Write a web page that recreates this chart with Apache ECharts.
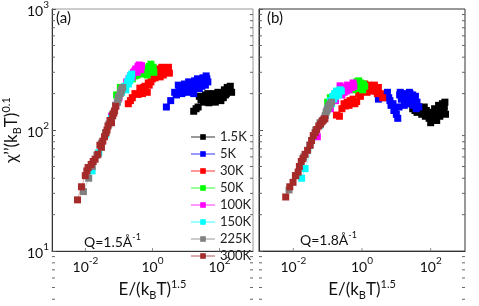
<!DOCTYPE html>
<html><head><meta charset="utf-8">
<script src="https://cdn.jsdelivr.net/npm/echarts@6/dist/echarts.min.js"></script>
<style>html,body{margin:0;padding:0;background:#fff}#c{width:479px;height:306px}</style>
</head><body><div id="c"></div>
<script>
const temps = ['1.5K','5K','30K','50K','100K','150K','225K','300K'];
const colors = ['#000000','#0000ff','#ff0000','#00ff00','#ff00ff','#00ffff','#808080','#a52a2a'];
const xTickExps = [-2, 0, 2];
const xTickValues = [0.01, 1, 100];
const yMinorTicks = [2,3,4,5,6,7,8,9,20,30,40,50,60,70,80,90,200,300,400,500,600,700,800,900];

// Panel (a) Q=1.5
const a_1_5K = [[17,143],[20,150],[23,155],[25,190],[28,178],[30,185],[33,170],[35,175],[38,195],[40,190],[45,200],[48,168],[50,175],[55,190],[60,185],[65,200],[70,195],[75,170],[80,180],[85,195],[90,205],[95,185],[100,190],[110,175],[120,200],[130,185],[140,215],[150,195],[160,200],[170,225],[180,220],[200,210],[210,230],[230,205]];
const a_5K = [[2.6,155],[3.5,175],[4.6,205],[5.2,195],[5.9,235],[6.5,225],[7,215],[7.5,200],[8,205],[8.5,230],[9,240],[10,225],[11,205],[12,250],[13,235],[14,210],[15,245],[16,230],[17,200],[18,255],[19,225],[20,240],[22,265],[24,235],[25,220],[27,250],[28,245],[30,230],[32,270],[34,260],[36,255],[38,235],[40,280],[42,265],[45,250]];
const a_30K = [[0.19,165],[0.22,175],[0.25,185],[0.3,200],[0.37,197],[0.42,222],[0.45,215],[0.5,200],[0.55,225],[0.6,230],[0.7,205],[0.75,245],[0.8,235],[0.9,250],[1.0,265],[1.1,280],[1.2,270],[1.3,295],[1.4,300],[1.5,320],[1.6,290],[1.7,275],[1.8,310],[1.9,330],[2.0,300],[2.1,285],[2.3,325],[2.5,320],[2.7,300],[2.9,310],[3.0,330],[3.2,295]];
const a_50K = [[0.085,195],[0.11,225],[0.25,265],[0.3,280],[0.35,285],[0.4,310],[0.45,300],[0.5,290],[0.55,305],[0.6,325],[0.65,300],[0.7,285],[0.75,320],[0.8,335],[0.9,350],[0.95,320],[1.0,310],[1.05,330],[1.1,300]];
const a_100K = [[0.06,130],[0.08,160],[0.1,185],[0.13,220],[0.17,250],[0.2,265],[0.22,280],[0.25,275],[0.27,300],[0.3,310],[0.32,320],[0.35,300],[0.37,335],[0.4,345],[0.42,330],[0.45,315],[0.47,340]];
const a_150K = [[0.0158,46],[0.025,65],[0.04,92],[0.06,125],[0.09,170],[0.12,205],[0.14,225],[0.15,230],[0.16,215],[0.18,250],[0.19,240],[0.2,265],[0.21,255],[0.22,280],[0.23,270],[0.24,290]];
const a_225K = [[0.0087,31],[0.0125,40],[0.016,50],[0.022,62],[0.03,78],[0.04,95],[0.05,112],[0.065,135],[0.08,160],[0.09,170],[0.095,180],[0.1,190],[0.11,200],[0.115,210],[0.12,215],[0.13,225]];
const a_300K = [[0.0058,26.5],[0.0076,34],[0.0099,42],[0.011,46],[0.012,49],[0.0148,52],[0.017,55],[0.0194,57.5],[0.0236,63],[0.027,75],[0.03,72],[0.033,81],[0.037,88],[0.041,95],[0.044,100],[0.047,108],[0.054,120],[0.06,115],[0.065,131],[0.07,138],[0.074,144],[0.08,157]];

// Panel (b) Q=1.8
const b_1_5K = [[30,150],[35,145],[40,140],[45,155],[50,150],[55,135],[60,145],[65,155],[70,130],[75,145],[80,140],[90,125],[100,115],[105,140],[110,135],[120,125],[130,150],[140,140],[150,120],[160,145],[170,160],[185,130],[200,145],[210,155],[220,165],[240,140],[250,155],[260,170],[270,135]];
const b_5K = [[3.0,180],[3.5,190],[4.0,185],[4.5,195],[5.0,190],[5.5,205],[6.0,185],[6.5,175],[7,160],[8,165],[8.5,145],[9,150],[10,135],[11,125],[12,155],[12.5,195],[13,205],[14,180],[15,190],[16,200],[17,160],[18,185],[20,195],[21,165],[22,175],[24,205],[25,200],[27,165],[28,180],[30,195],[32,160],[34,175],[36,190],[38,150],[40,170],[45,155]];
const b_30K = [[0.18,133],[0.22,130],[0.26,150],[0.3,165],[0.33,158],[0.37,170],[0.42,160],[0.45,175],[0.5,168],[0.55,180],[0.62,165],[0.7,172],[0.8,200],[0.9,190],[1.0,220],[1.1,210],[1.2,240],[1.3,225],[1.4,205],[1.5,215],[1.6,235],[1.8,230],[1.9,210],[2.1,220],[2.3,235],[2.5,210],[2.8,200],[3.0,225],[3.4,200],[4.0,185]];
const b_50K = [[0.1,170],[0.12,185],[0.5,230],[0.55,215],[0.6,240],[0.65,225],[0.7,250],[0.75,235],[0.8,255],[0.85,220],[0.9,245],[1.0,235],[1.05,215],[1.1,240],[1.2,230]];
const b_100K = [[0.05,88],[0.08,125],[0.12,150],[0.17,175],[0.2,200],[0.23,232],[0.26,195],[0.28,215],[0.3,205],[0.32,225],[0.35,210],[0.38,235],[0.42,215],[0.45,230],[0.5,225],[0.55,245],[0.58,230]];
const b_150K = [[0.0175,40],[0.022,48],[0.06,110],[0.1,150],[0.12,175],[0.13,165],[0.14,190],[0.15,180],[0.16,200],[0.17,190],[0.18,210],[0.2,205],[0.21,195],[0.23,215],[0.25,210]];
const b_225K = [[0.0075,32],[0.012,42],[0.02,60],[0.03,75],[0.045,100],[0.06,115],[0.07,120],[0.08,125],[0.085,132],[0.09,140],[0.095,145],[0.1,150],[0.105,155],[0.11,160],[0.12,165],[0.13,170]];
const b_300K = [[0.006,28],[0.0079,34],[0.0098,37],[0.0115,42],[0.0138,45],[0.015,50],[0.017,55],[0.019,58],[0.022,63],[0.026,68],[0.031,75],[0.034,82],[0.038,90],[0.043,95],[0.048,101],[0.055,108],[0.062,112],[0.068,117],[0.075,121],[0.083,124]];

const panelA = [a_1_5K,a_5K,a_30K,a_50K,a_100K,a_150K,a_225K,a_300K];
const panelB = [b_1_5K,b_5K,b_30K,b_50K,b_100K,b_150K,b_225K,b_300K];

const FONT = 'Lato, "Liberation Sans", sans-serif';
const supRich = {
  b: {fontSize: 14, fontFamily: FONT, color: '#111', lineHeight: 18, verticalAlign: 'bottom'},
  s: {fontSize: 10, fontFamily: FONT, color: '#111', lineHeight: 10, verticalAlign: 'top'}
};
const nameRich = {
  n: {fontSize: 17, fontFamily: FONT, color: '#111', lineHeight: 22, verticalAlign: 'middle'},
  sub: {fontSize: 11, fontFamily: FONT, color: '#111', lineHeight: 6, verticalAlign: 'bottom'},
  sup: {fontSize: 11, fontFamily: FONT, color: '#111', lineHeight: 10, verticalAlign: 'top'}
};

function xLabel(v){
  const e = Math.round(Math.log10(v));
  if (xTickExps.indexOf(e) < 0) return '';
  return '{b|10}{s|' + e + '}';
}
function yLabel(v){
  const e = Math.round(Math.log10(v));
  return '{b|10}{s|' + e + '}';
}

function makeX(idx){
  return {
    type: 'log', logBase: 10, gridIndex: idx, min: 0.001, max: 1000, splitNumber: 6,
    name: '{n|E/(k}{sub|B}{n|T)}{sup|1.5}', nameLocation: 'middle', nameGap: 27,
    nameTextStyle: {rich: nameRich},
    axisLine: {lineStyle: {color: '#333', width: 1}},
    axisTick: {show: false},
    axisLabel: {formatter: xLabel, rich: supRich, margin: 5, hideOverlap: false, showMinLabel: false, showMaxLabel: false},
    splitLine: {show: false}
  };
}
function makeY(idx){
  return {
    type: 'log', logBase: 10, gridIndex: idx, min: 10, max: 1000,
    name: idx === 0 ? '{n|χ’’(k}{sub|B}{n|T)}{sup|0.1}' : '',
    nameLocation: 'middle', nameGap: 22, nameRotate: 90,
    nameTextStyle: {rich: nameRich},
    axisLine: {lineStyle: {color: '#333', width: 1}},
    axisTick: {show: true, inside: true, length: 4, lineStyle: {color: '#555'}},
    axisLabel: {show: idx === 0, formatter: yLabel, rich: supRich, margin: 3},
    splitLine: {show: false}
  };
}

const series = [];
[panelA, panelB].forEach((panel, p) => {
  panel.forEach((data, i) => {
    series.push({
      type: 'line', name: temps[i], xAxisIndex: p, yAxisIndex: p,
      data: data, symbol: 'rect', symbolSize: 7, showSymbol: true,
      itemStyle: {color: colors[i]},
      lineStyle: {color: colors[i], width: 1, opacity: 0.4},
      emphasis: {disabled: true}, z: 2 + i, animation: false
    });
  });
  // minor y ticks (left and right edges)
  series.push({
    type: 'custom', xAxisIndex: p, yAxisIndex: p, silent: true, z: 20,
    data: yMinorTicks.map(v => [1, v]),
    renderItem: function(params, api){
      const cs = params.coordSys;
      const y = api.coord([1, api.value(1)])[1];
      const st = {stroke: '#666', lineWidth: 1};
      return {type: 'group', children: [
        {type: 'line', shape: {x1: cs.x, y1: y, x2: cs.x + 3, y2: y}, style: st},
        {type: 'line', shape: {x1: cs.x + cs.width - 3, y1: y, x2: cs.x + cs.width, y2: y}, style: st}
      ]};
    },
    animation: false
  });
  // x ticks at labelled decades
  series.push({
    type: 'custom', xAxisIndex: p, yAxisIndex: p, silent: true, z: 20,
    data: xTickValues.map(v => [v, 10]),
    renderItem: function(params, api){
      const cs = params.coordSys;
      const x = api.coord([api.value(0), 10])[0];
      const yb = cs.y + cs.height;
      return {type: 'line', shape: {x1: x, y1: yb, x2: x, y2: yb - 3}, style: {stroke: '#888', lineWidth: 1}};
    },
    animation: false
  });
});

const chart = echarts.init(document.getElementById('c'), null, {renderer: 'canvas'});
chart.setOption({
  animation: false,
  backgroundColor: '#fff',
  grid: [
    {left: 48, top: 9, width: 205, height: 256, show: true, borderColor: '#999', borderWidth: 1, backgroundColor: 'transparent'},
    {left: 259, top: 9, width: 206, height: 256, show: true, borderColor: '#333', borderWidth: 1, backgroundColor: 'transparent'}
  ],
  xAxis: [makeX(0), makeX(1)],
  yAxis: [makeY(0), makeY(1)],
  legend: {
    data: temps, orient: 'vertical', left: 185, top: 125,
    itemWidth: 24, itemHeight: 7, itemGap: 3,
    textStyle: {fontSize: 13, fontFamily: FONT, color: '#222', lineHeight: 14},
    selectedMode: false
  },
  graphic: [
    {type: 'text', left: 56, top: 11, style: {text: '(a)', font: '15px ' + FONT, fill: '#111'}},
    {type: 'text', left: 267, top: 11, style: {text: '(b)', font: '15px ' + FONT, fill: '#111'}},
    {type: 'text', left: 84, top: 233, style: {text: '{n|Q=1.5Å}{s|-1}', rich: {n: {fontSize: 14, fontFamily: FONT, fill: '#111', lineHeight: 16, verticalAlign: 'bottom'}, s: {fontSize: 9, fontFamily: FONT, fill: '#111', lineHeight: 9, verticalAlign: 'top'}}}},
    {type: 'text', left: 300, top: 231, style: {text: '{n|Q=1.8Å}{s|-1}', rich: {n: {fontSize: 14, fontFamily: FONT, fill: '#111', lineHeight: 16, verticalAlign: 'bottom'}, s: {fontSize: 9, fontFamily: FONT, fill: '#111', lineHeight: 9, verticalAlign: 'top'}}}}
  ],
  series: series
});
</script>
</body></html>
